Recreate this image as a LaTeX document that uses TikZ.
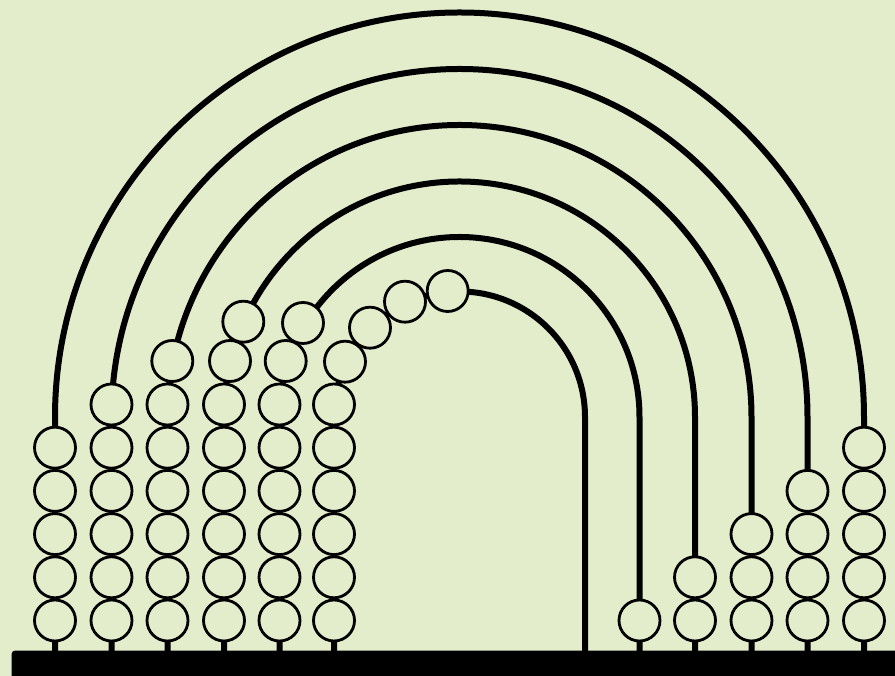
\documentclass[tikz,border=0pt]{standalone}
\definecolor{bg}{RGB}{227,237,204}
\begin{document}
\begin{tikzpicture}[x=1pt,y=1pt,
  wire/.style={line width=6pt},
  bead/.style={circle, draw=black, line width=2.8pt, fill=bg, minimum size=41pt, inner sep=0pt}]
\useasboundingbox (0,0) rectangle (895,676);
\fill[bg] (0,0) rectangle (895,676);
\clip (0,0) rectangle (895,676);
\coordinate (c) at (459.5,259);
% wires
\foreach \R [count=\k] in {404.5,348,292,235.5,180,125.5} {
  \draw[wire] (459.5-\R,20) coordinate (wl\k) -- (459.5-\R,259)
     arc[start angle=180,end angle=0,radius=\R] -- (459.5+\R,20) coordinate (wr\k);
}
% base
\fill[black, rounded corners=3pt] (11.7,-10) -- (11.7,25.3) -- (910,25.3) -- (910,-10) -- cycle;
% left beads on straight parts
\foreach \x/\n [count=\k] in {55/5,111.5/6,167.5/6,224/6,279.5/6,334/6} {
  \foreach \i in {1,...,\n}
    \node[bead] (L\k-\i) at (\x,{55.5+43.2*(\i-1)}) {};
}
% beads on the arcs
\node[bead] (A3-1) at (172.3,315) {};
\node[bead] (A4-1) at (230,315) {};
\node[bead] (A4-2) at (243.3,354.3) {};
\node[bead] (A5-1) at (285.7,315) {};
\node[bead] (A5-2) at (303,353) {};
\node[bead] (A6-1) at (345,314.3) {};
\node[bead] (A6-2) at (370,348.3) {};
\node[bead] (A6-3) at (405,374.3) {};
\node[bead] (A6-4) at (447.7,385) {};
% right beads
\foreach \x/\n [count=\k] in {864/5,807.5/4,751.5/3,695/2,639.5/1} {
  \foreach \i in {1,...,\n}
    \node[bead] (R\k-\i) at (\x,{55.5+43.2*(\i-1)}) {};
}
\end{tikzpicture}
\end{document}
